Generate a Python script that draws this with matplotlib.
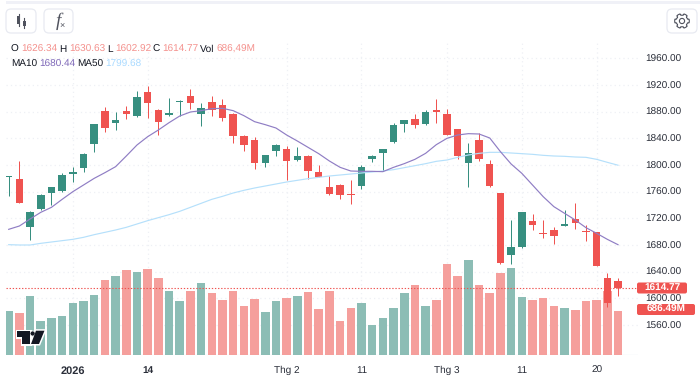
import numpy as np
import matplotlib
matplotlib.use('Agg')
import matplotlib.pyplot as plt
from matplotlib.patches import FancyBboxPatch, Polygon, Circle, Rectangle

plt.rcParams['font.family'] = ['Liberation Sans', 'DejaVu Sans']
plt.rcParams['text.hinting'] = 'no_hinting'
plt.rcParams['text.hinting_factor'] = 1

# prices, one entry per session
opens = [1782, 1779, 1706.5, 1734.5, 1758.5, 1761, 1787, 1795, 1832, 1881.5,
         1862.5, 1880.5, 1874, 1909.5, 1883, 1874.5, 1894.5, 1903.5, 1876.5, 1894,
         1890, 1876.5, 1844, 1837, 1803.5, 1821.5, 1824, 1807, 1814, 1789,
         1767.5, 1769.5, 1756, 1769, 1809.5, 1818, 1834, 1862, 1869, 1861.5,
         1882.5, 1876, 1853.5, 1803.5, 1837, 1801, 1758, 1665.5, 1676.5, 1716.5,
         1698, 1702, 1709, 1718.5, 1701, 1699, 1630, 1626.34]
highs = [1784, 1806, 1731.5, 1756, 1767.5, 1787.5, 1797.5, 1817.5, 1861, 1887.5,
         1880, 1888.5, 1911, 1918.5, 1884, 1900, 1897.5, 1914, 1893.5, 1904,
         1899, 1878, 1845, 1842.5, 1815.5, 1831.5, 1828.5, 1827.5, 1814.5, 1800,
         1783, 1772, 1777, 1799.5, 1815.5, 1824, 1862.5, 1867.5, 1876, 1882,
         1899, 1884, 1854, 1833.5, 1848.5, 1807.5, 1758.5, 1717.5, 1730, 1726,
         1717.5, 1707.5, 1732.5, 1743.5, 1710, 1699.5, 1637.5, 1630.63]
lows = [1754, 1742.5, 1687.5, 1732.5, 1740, 1760, 1775, 1790, 1819, 1850,
        1852.5, 1868.5, 1871.5, 1870, 1845, 1873.5, 1873.5, 1883.5, 1858.5, 1874,
        1866.5, 1833.5, 1821.5, 1793.5, 1797, 1813.5, 1777.5, 1805.5, 1779.5, 1781.5,
        1755.5, 1749.5, 1741, 1764, 1804.5, 1791.5, 1833.5, 1849, 1856, 1859.5,
        1863.5, 1844.5, 1808.5, 1767.5, 1806.5, 1767.5, 1652, 1652, 1676, 1702.5,
        1690, 1681.5, 1708, 1703.5, 1686.5, 1648, 1587.5, 1602.92]
closes = [1783, 1743.5, 1730, 1755, 1767.5, 1784.5, 1789, 1816, 1861, 1855,
          1867.5, 1877, 1902.5, 1893.5, 1864.5, 1878.5, 1896.5, 1893, 1885, 1882.5,
          1870.5, 1843.5, 1830.5, 1803, 1814.5, 1829.5, 1806.5, 1813, 1791.5, 1782,
          1756, 1755.5, 1754.5, 1796.5, 1813.5, 1823.5, 1860, 1867, 1860.5, 1879,
          1879.5, 1845.5, 1813.5, 1817.5, 1808.5, 1768.5, 1653.5, 1677.5, 1729.5, 1709.5,
          1696.5, 1693.5, 1711, 1713.5, 1699.5, 1648.5, 1592.5, 1614.77]
volumes = [686, 640, 920, 520, 562, 598, 811, 837, 926, 1170,
           1217, 1321, 1290, 1336, 1196, 983, 832, 993, 1123, 952,
           848, 998, 754, 863, 660, 832, 889, 920, 972, 707,
           998, 520, 723, 811, 458, 572, 733, 962, 1087, 754,
           858, 1414, 1217, 1472, 1092, 957, 1274, 1342, 900, 858,
           879, 749, 723, 702, 827, 858, 988, 686.49]
ma10 = [1703.5, 1708.5, 1719, 1729, 1736.5, 1748.5, 1760, 1770, 1780, 1788.5,
        1797.5, 1813.5, 1830, 1842.5, 1852.5, 1863.5, 1873.5, 1879.5, 1881.5, 1884.5,
        1885, 1881.5, 1874, 1865, 1860.5, 1855.5, 1845, 1836, 1826.5, 1817,
        1806, 1796.5, 1791, 1790.5, 1790.5, 1790, 1796.5, 1802, 1808.5, 1817.5,
        1830.5, 1840, 1845, 1847, 1846.5, 1840.5, 1820, 1801.5, 1787.5, 1770,
        1752.5, 1737.5, 1727.5, 1717.5, 1706, 1697.5, 1688.5, 1680.44]
ma50 = [1680.5, 1680, 1680, 1682.5, 1684.5, 1686.5, 1688.5, 1691.5, 1695.5, 1699,
        1702.5, 1706.5, 1711.5, 1716.5, 1721, 1725.5, 1730.5, 1736.5, 1742.5, 1748.5,
        1753, 1758, 1762, 1765.5, 1768.5, 1771.5, 1774.5, 1777, 1779.5, 1781.5,
        1783.5, 1785, 1786.5, 1788, 1789.5, 1791, 1793, 1796, 1799, 1802,
        1805.5, 1807.5, 1811.5, 1815, 1817.5, 1819, 1819, 1818, 1817, 1816,
        1814.5, 1813.5, 1813, 1812, 1811.5, 1808.5, 1804, 1799.68]

price_ticks = [1560, 1600, 1640, 1680, 1720, 1760, 1800, 1840, 1880, 1920, 1960]
date_pos = [6, 13, 26, 33, 41, 48, 55]
date_labels = ['2026', '14', 'Thg 2', '11', 'Thg 3', '11', '20']
last_price = 1614.77
last_volume = 686.49

RED = '#ef5350'
GREEN = '#378f80'
RED_VOL = '#f59f9c'
GREEN_VOL = '#8cbdb5'
GRID = '#eef0f5'
TEXT = '#131722'

W, H = 700, 376
L, R, T, B = 6, 638, 40, 354.5

fig = plt.figure(figsize=(7, 3.76), dpi=100, facecolor='white')
box = [L / W, 1 - B / H, (R - L) / W, (B - T) / H]

# volume sits on its own axis behind the candles
ax_v = fig.add_axes(box, zorder=1)
ax = fig.add_axes(box, zorder=2)
ax.patch.set_alpha(0)

x = np.arange(len(closes))
opens_a = np.array(opens)
closes_a = np.array(closes)
up = closes_a >= opens_a

ax_v.bar(x, volumes, width=0.8, color=[GREEN_VOL if u else RED_VOL for u in up], linewidth=0)
ax_v.set_ylim(0, 686.49 / 44 * (B - T))

ax.vlines(x, lows, highs, colors=[GREEN if u else RED for u in up], linewidth=0.72, zorder=3)
ax.bar(x, np.abs(closes_a - opens_a), bottom=np.minimum(opens_a, closes_a), width=0.7,
       color=[GREEN if u else RED for u in up], linewidth=0, zorder=4)
ax.plot(x, ma50, color='#b5e0fb', linewidth=0.85, zorder=5)
ax.plot(x, ma10, color='#8f7dc4', linewidth=0.85, zorder=5)
ax.axhline(last_price, color=RED, linewidth=0.8, linestyle=(0, (1.2, 1.6)), zorder=6)

for a in (ax, ax_v):
    a.set_xlim((L - 8.7) / 10.69, (R - 8.7) / 10.69)
    for s in a.spines.values():
        s.set_visible(False)
ax.set_ylim(1920 - (B - 85) * 1.5, 1920 - (T - 85) * 1.5)

ax_v.set_yticks([])
ax_v.set_xticks(date_pos)
ax_v.set_xticklabels([])
ax_v.tick_params(length=0)
ax_v.grid(True, axis='x', color=GRID, linewidth=0.9, linestyle=(0, (1, 2.5)))
ax_v.set_axisbelow(True)
# horizontal grid lives on the volume axis too so it stays behind the bars
for p in price_ticks:
    ax_v.axhline((p - ax.get_ylim()[0]) / 1.5 * 686.49 / 44, color=GRID, linewidth=0.9,
                 linestyle=(0, (1, 2.5)), zorder=0)
ax_v.axhline(0, color=GRID, linewidth=1.0, zorder=0)

ax.set_xticks(date_pos)
ax.set_xticklabels(date_labels, fontsize=7.4, color='#2a2e39')
ax.get_xticklabels()[0].set_fontweight('bold')
ax.get_xticklabels()[0].set_fontsize(7.8)
ax.get_xticklabels()[1].set_fontweight('bold')
ax.tick_params(axis='x', length=0, pad=8)
ax.yaxis.tick_right()
ax.set_yticks(price_ticks)
ax.set_yticklabels(['%.2f' % p for p in price_ticks], fontsize=7.3, color='#2a2e39')
ax.tick_params(axis='y', length=0, pad=5.5)

# overlay in pixel coordinates for the toolbar, legend and price tags
ui = fig.add_axes([0, 0, 1, 1], zorder=10)
ui.set_xlim(0, W)
ui.set_ylim(H, 0)
ui.axis('off')
ui.patch.set_alpha(0)

ui.add_patch(Rectangle((6, 1), 694, 2.5, color='#f0f1f7', lw=0))


def button(x0, x1):
    ui.add_patch(FancyBboxPatch((x0 + 3, 12), x1 - x0 - 6, 18, boxstyle='round,pad=3,rounding_size=5',
                                fc='white', ec='#e8eaf1', lw=0.9))


button(6, 36)
button(44, 73)
button(667, 697)

# candle icon
ui.plot([18.5, 18.5], [14, 26], color='#50535e', lw=0.8)
ui.add_patch(Rectangle((17, 16), 3, 8, color='#50535e', lw=0))
ui.plot([24, 24], [18, 28], color='#50535e', lw=0.8)
ui.add_patch(Rectangle((22.5, 21), 3, 5, color='#50535e', lw=0))

ui.text(58, 21.5, 'f', fontsize=14, style='italic', family=['Liberation Serif'], color='#50535e',
        ha='center', va='center')
ui.text(62.5, 26, '×', fontsize=6.5, color='#50535e', ha='center', va='center')

# gear icon
ang = np.linspace(0, 2 * np.pi, 97)
rad = 7.3 - 1.5 * (np.cos(6 * ang) < -0.1)
ui.add_patch(Polygon(np.c_[682 + rad * np.cos(ang), 21 + rad * np.sin(ang)], closed=True,
                     fc='white', ec='#50535e', lw=0.8))
ui.add_patch(Circle((682, 21), 2.6, fc='white', ec='#50535e', lw=0.8))

VAL_RED = '#f4918d'
row1 = [(10.7, 'O', TEXT), (21.3, '1626.34', VAL_RED), (58.7, 'H', TEXT), (69, '1630.63', VAL_RED),
        (106.7, 'L', TEXT), (115, '1602.92', VAL_RED), (152.3, 'C', TEXT), (162.7, '1614.77', VAL_RED),
        (200.3, 'Vol', TEXT), (216.7, '686,49M', VAL_RED)]
row2 = [(10.7, 'MA10', TEXT), (39.3, '1680.44', '#7e68b8'), (77, 'MA50', TEXT), (105.7, '1799.68', '#a9daff')]
for px, s, c in row1:
    ui.text(px, 49.5, s, fontsize=6.9, color=c, va='center', ha='left')
for px, s, c in row2:
    ui.text(px, 64, s, fontsize=6.9, color=c, va='center', ha='left')


def tag(y0, y1, x1, s):
    ui.add_patch(FancyBboxPatch((638, y0 + 1), x1 - 639, y1 - y0 - 2, boxstyle='round,pad=1,rounding_size=2',
                                fc=RED, ec='none'))
    ui.text((638 + x1) / 2, (y0 + y1) / 2, s, fontsize=7.3, color='white', fontweight='bold',
            ha='center', va='center')


tag(282.5, 293.5, 687, '%.2f' % last_price)
tag(304, 315, 695, '%.2fM' % last_volume)

# TradingView mark
logo = [[(17, 330.7), (30, 330.7), (30, 344), (21.7, 344), (21.7, 336.7), (17, 336.7)],
        [(36, 330.7), (44.5, 330.7), (39, 344), (31, 344)]]
for pts in logo:
    ui.add_patch(Polygon(pts, closed=True, fc='#131722', ec='white', lw=2.2, zorder=7))
for pts in logo:
    ui.add_patch(Polygon(pts, closed=True, fc='#131722', ec='none', zorder=9))
ui.add_patch(Circle((32.6, 333.5), 2.6, fc='#131722', ec='white', lw=0.6, zorder=8))

fig.savefig('out.png', dpi=100)
